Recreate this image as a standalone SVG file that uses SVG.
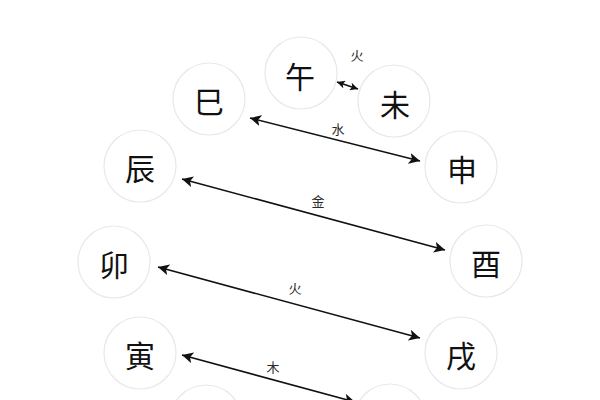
<svg xmlns="http://www.w3.org/2000/svg" width="600" height="400" viewBox="0 0 600 400">
<defs>
<marker id="ah" viewBox="0 0 10 10" refX="10" refY="5" markerWidth="8" markerHeight="8" markerUnits="userSpaceOnUse" orient="auto-start-reverse">
<path d="M0,0 L10,5 L0,10 L2.5,5 z" fill="#111"/>
</marker>
<marker id="ahl" viewBox="0 0 10 10" refX="10" refY="5" markerWidth="11" markerHeight="11" markerUnits="userSpaceOnUse" orient="auto-start-reverse">
<path d="M0,0 L10,5 L0,10 L2.5,5 z" fill="#111"/>
</marker>
<style>
.node circle{fill:#fff;stroke:#e8e8e8;stroke-width:1.2}
.node text{font-family:"Noto Sans CJK SC","Noto Sans CJK JP",sans-serif;font-size:30px;fill:#111;text-anchor:middle;dominant-baseline:central}
.edge line{stroke:#111;stroke-width:1.6;fill:none}
.lbl{font-family:"Noto Sans CJK SC","Noto Sans CJK JP",sans-serif;font-size:13px;fill:#2a2a2a;text-anchor:middle;dominant-baseline:central}
</style>
</defs>
<rect width="600" height="400" fill="#fff"/>
<g id="node-wu" class="node"><circle cx="301" cy="73" r="36"/><text x="300" y="75">午</text></g>
<g id="node-wei" class="node"><circle cx="394" cy="101" r="36"/><text x="395" y="103">未</text></g>
<g id="node-si" class="node"><circle cx="209" cy="99" r="36"/><text x="209" y="100">巳</text></g>
<g id="node-shen" class="node"><circle cx="461" cy="167" r="36"/><text x="462" y="168">申</text></g>
<g id="node-chen" class="node"><circle cx="140" cy="166" r="36"/><text x="140" y="167">辰</text></g>
<g id="node-you" class="node"><circle cx="486" cy="261" r="36"/><text x="486" y="262">酉</text></g>
<g id="node-mao" class="node"><circle cx="114" cy="262" r="36"/><text x="114" y="263">卯</text></g>
<g id="node-xu" class="node"><circle cx="461" cy="353" r="36"/><text x="461" y="354">戌</text></g>
<g id="node-yin" class="node"><circle cx="140" cy="353" r="36"/><text x="140" y="354">寅</text></g>
<g id="node-chou" class="node"><circle cx="206" cy="421" r="36"/></g>
<g id="node-hai" class="node"><circle cx="390" cy="420" r="36"/></g>
<g id="connectors" class="edge">
<line x1="337" y1="82" x2="358" y2="89" marker-start="url(#ah)" marker-end="url(#ah)"/>
<line x1="250" y1="118" x2="420" y2="161" marker-start="url(#ahl)" marker-end="url(#ahl)"/>
<line x1="182" y1="179" x2="445" y2="250" marker-start="url(#ahl)" marker-end="url(#ahl)"/>
<line x1="158" y1="267" x2="420" y2="338" marker-start="url(#ahl)" marker-end="url(#ahl)"/>
<line x1="182" y1="355" x2="355" y2="402" marker-start="url(#ahl)" marker-end="url(#ahl)"/>
<text class="lbl" x="357" y="54">火</text>
<text class="lbl" x="338" y="128">水</text>
<text class="lbl" x="318" y="200">金</text>
<text class="lbl" x="295" y="287">火</text>
<text class="lbl" x="273" y="366">木</text>
</g>
</svg>
